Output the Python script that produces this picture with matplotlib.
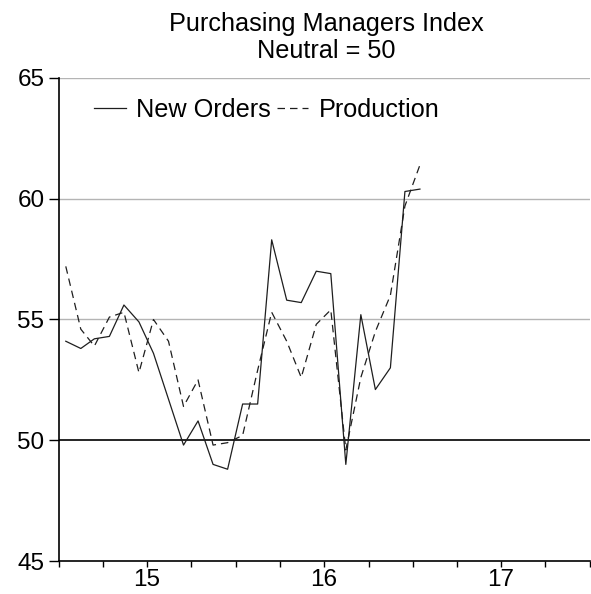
import matplotlib
matplotlib.use("Agg")
import matplotlib.pyplot as plt
import pandas as pd

plt.rcParams['font.family'] = ['Liberation Sans', 'DejaVu Sans']

# Monthly data, Jan 2015 - Jan 2017
months = pd.date_range('2015-01-01', periods=25, freq='MS') + pd.Timedelta(days=14)
new_orders = [54.1, 53.8, 54.2, 54.3, 55.6, 54.9, 53.6, 51.7, 49.8, 50.8, 49.0, 48.8,
              51.5, 51.5, 58.3, 55.8, 55.7, 57.0, 56.9, 49.0, 55.2, 52.1, 53.0, 60.3, 60.4]
production = [57.2, 54.6, 53.9, 55.1, 55.3, 52.8, 55.0, 54.1, 51.4, 52.5, 49.8, 49.9,
              50.2, 52.9, 55.3, 54.1, 52.6, 54.8, 55.4, 49.6, 52.6, 54.5, 56.0, 59.7, 61.4]
year_labels = ['15', '16', '17']
yticks = [45, 50, 55, 60, 65]

FS = 17.5
FS_T = 18.2

fig = plt.figure(figsize=(5.91, 5.94), dpi=100)
ax = fig.add_axes([59/591, 33/594, 531/591, 483/594])

for y in [55, 60, 65]:
    ax.axhline(y, color='#b4b4b4', lw=1.0, zorder=1)
ax.axhline(50, color='black', lw=1.2, zorder=2)

ax.plot(months, new_orders, color='#1e1e1e', lw=0.9, label='New Orders', zorder=3)
ax.plot(months, production, color='#1e1e1e', lw=0.9, dashes=(6, 4), label='Production', zorder=3)

ax.set_xlim(pd.Timestamp('2015-01-01'), pd.Timestamp('2018-01-01'))
ax.set_ylim(45, 65)
ax.set_yticks(yticks)
ax.set_yticklabels([str(v) for v in yticks])

quarters = pd.date_range('2015-01-01', '2018-01-01', freq='QS')
ax.set_xticks(quarters, minor=True)
mids = [pd.Timestamp(f'20{y}-07-01') for y in year_labels]
ax.set_xticks(mids)
ax.set_xticklabels(year_labels)

ax.tick_params(axis='y', direction='out', length=7, width=1, pad=3.5, labelsize=FS)
ax.tick_params(axis='x', which='both', direction='out', length=4, width=1, pad=1.5, labelsize=FS)

for s in ['top', 'right']:
    ax.spines[s].set_visible(False)
for s in ['left', 'bottom']:
    ax.spines[s].set_linewidth(1.2)
    ax.spines[s].set_color('black')

fig.text(326/591, 1 - 31/594, 'Purchasing Managers Index', ha='center', va='baseline', fontsize=FS_T)
fig.text(326/591, 1 - 58/594, 'Neutral = 50', ha='center', va='baseline', fontsize=FS_T)

leg = ax.legend(loc='upper left', bbox_to_anchor=(94/591, 1 - 98/594), bbox_transform=fig.transFigure,
                ncol=2, frameon=False, fontsize=FS_T, handlelength=1.25, handletextpad=0.4,
                columnspacing=0.25, borderaxespad=0, borderpad=0)

fig.savefig('out.png', dpi=100)
